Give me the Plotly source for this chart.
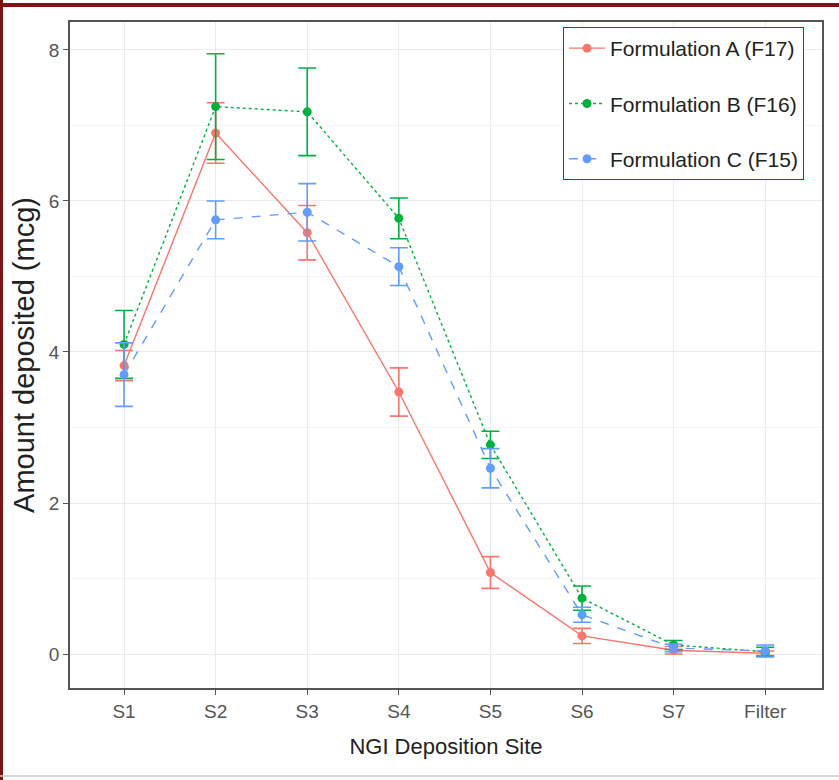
import plotly.graph_objects as go

sites = ["S1", "S2", "S3", "S4", "S5", "S6", "S7", "Filter"]
names = ["Formulation A (F17)", "Formulation B (F16)", "Formulation C (F15)"]
a_vals = [3.82, 6.90, 5.58, 3.47, 1.08, 0.24, 0.05, 0.01]
a_err = [0.20, 0.40, 0.36, 0.32, 0.21, 0.10, 0.05, 0.03]
b_vals = [4.10, 7.25, 7.18, 5.77, 2.77, 0.74, 0.12, 0.03]
b_err = [0.45, 0.70, 0.58, 0.27, 0.18, 0.16, 0.06, 0.06]
c_vals = [3.70, 5.75, 5.85, 5.13, 2.46, 0.52, 0.08, 0.04]
c_err = [0.42, 0.25, 0.38, 0.25, 0.26, 0.10, 0.05, 0.08]

colors = ["#F8766D", "#00B140", "#619CFF"]
dashes = ["solid", "dot", "dash"]
series = [(a_vals, a_err), (b_vals, b_err), (c_vals, c_err)]

fig = go.Figure()
for i, (vals, errs) in enumerate(series):
    fig.add_trace(go.Scatter(
        x=sites, y=vals, name=names[i], mode="lines+markers",
        legendgroup=names[i],
        line=dict(color=colors[i], width=1.4, dash=dashes[i]),
        marker=dict(color=colors[i], size=9),
        error_y=dict(type="data", array=errs, color=colors[i], thickness=1.6, width=9),
    ))

W, H = 839, 780
L, R, T, B = 70, 17, 22, 92
pw, ph = W - L - R, H - T - B

def px(x):
    return (x - L) / pw

def py(y):
    return 1 - (y - T) / ph

shapes = [
    dict(type="rect", xref="paper", yref="paper", x0=px(0), x1=px(3), y0=py(780), y1=py(0),
         fillcolor="#7B1414", line=dict(width=0), layer="above"),
    dict(type="rect", xref="paper", yref="paper", x0=px(0), x1=px(839), y0=py(7), y1=py(3),
         fillcolor="#7B1414", line=dict(width=0), layer="above"),
    dict(type="line", xref="paper", yref="paper", x0=px(0), x1=px(839), y0=py(776), y1=py(776),
         line=dict(color="#CCCCCC", width=1.5)),
]

fig.update_layout(
    width=W, height=H,
    margin=dict(l=L, r=R, t=T, b=B),
    paper_bgcolor="white", plot_bgcolor="white",
    font=dict(family="Liberation Sans, Arial, sans-serif", color="#222222"),
    showlegend=True,
    legend=dict(
        x=px(563), y=py(27), xanchor="left", yanchor="top",
        bgcolor="white", bordercolor="#E00000", borderwidth=1,
        font=dict(size=21, color="#222222"), tracegroupgap=25,
        itemwidth=36,
    ),
    shapes=shapes,
)
fig.update_xaxes(
    range=[-0.59, 7.62], showgrid=True, gridcolor="#EBEBEB", gridwidth=1,
    showline=True, linecolor="#555555", linewidth=1.5, mirror=True,
    ticks="outside", ticklen=5, tickcolor="#555555",
    tickfont=dict(size=19, color="#555555"),
    title=dict(text="NGI Deposition Site", font=dict(size=22, color="#222222"), standoff=18),
    zeroline=False,
)
fig.update_yaxes(
    range=[-0.45, 8.37], dtick=2, tick0=0, showgrid=True, gridcolor="#EBEBEB", gridwidth=1,
    minor=dict(dtick=1, showgrid=True, gridcolor="#F4F4F4"),
    showline=True, linecolor="#555555", linewidth=1.5, mirror=True,
    ticks="outside", ticklen=5, tickcolor="#555555",
    tickfont=dict(size=19, color="#555555"),
    title=dict(text="Amount deposited (mcg)", font=dict(size=29, color="#222222"), standoff=6),
    zeroline=False,
)

fig.write_html("out.html")
